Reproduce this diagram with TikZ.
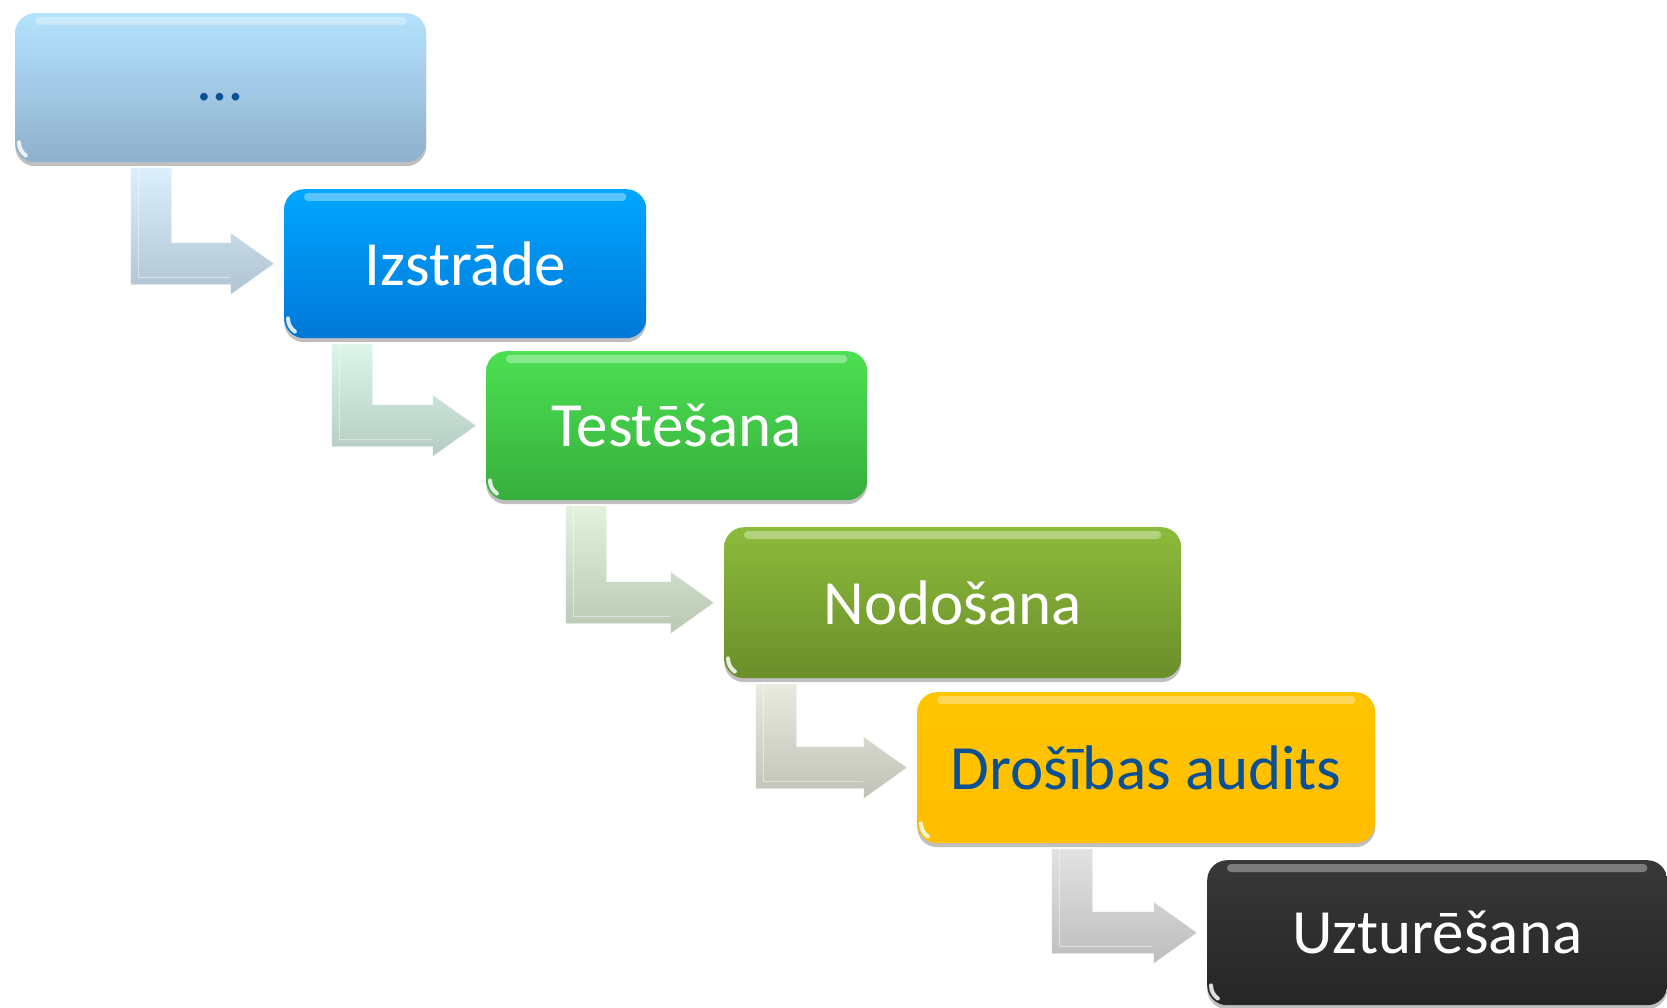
\documentclass[tikz,border=0pt]{standalone}
\usepackage{fontspec}
\setmainfont{Carlito}
\usetikzlibrary{calc,shadows}
\definecolor{dblue}{RGB}{10,80,148}
\tikzset{
  stage/.style={rectangle, rounded corners=20pt, inner sep=0pt, anchor=north west,
    font=\fontsize{63}{70}\selectfont, text=white,
    drop shadow={shadow xshift=0pt, shadow yshift=-4pt, opacity=0.25, fill=black}},
  gloss/.style={white, opacity=0.35, rounded corners=4pt},
  glint/.style={white, opacity=0.85, line width=4pt, line cap=round},
}
\newcommand\bentarrow[5]{%
  \shade[top color=#4, bottom color=#5, draw=white, draw opacity=0.85, line width=1.5pt, line join=miter]
    let \p1=(#1.south), \p2=(#2.west) in
    (#3pt,\y1-5pt) -- (#3pt+42pt,\y1-5pt) -- (#3pt+42pt,\y2+21.5pt) -- (\x2-54pt,\y2+21.5pt)
    -- (\x2-54pt,\y2+32pt) -- (\x2-9pt,\y2) -- (\x2-54pt,\y2-32pt) -- (\x2-54pt,\y2-21.5pt)
    -- (#3pt,\y2-21.5pt) -- cycle;
  \draw[white, opacity=0.45, line width=1pt]
    let \p1=(#1.south), \p2=(#2.west) in
    (#3pt+8pt,\y1-5pt) -- (#3pt+8pt,\y2-13.5pt) -- (\x2-54pt,\y2-13.5pt);
}
\newcommand\boxgloss[1]{%
  \fill[gloss] ($(#1.north west)+(20,4)$) rectangle ($(#1.north east)+(-20,12)$);
  \draw[glint] ($(#1.south west)+(4,-20)$) arc[start angle=180, end angle=125, radius=16];
}
\begin{document}
\begin{tikzpicture}[x=1pt,y=-1pt]
\useasboundingbox[fill=white] (0,0) rectangle (1667,1008);

\node[stage, top color={rgb,255:red,181;green,226;blue,254}, bottom color={rgb,255:red,142;green,176;blue,204},
  minimum width=411pt, minimum height=149pt, text=dblue, text height=26pt, text depth=0pt] (b1) at (15,13) {…};
\node[stage, top color={rgb,255:red,0;green,166;blue,255}, bottom color={rgb,255:red,0;green,120;blue,216},
  minimum width=362pt, minimum height=149pt] (b2) at (284,189) {Izstrāde};
\node[stage, top color={rgb,255:red,76;green,224;blue,82}, bottom color={rgb,255:red,55;green,174;blue,61},
  minimum width=381pt, minimum height=149pt] (b3) at (486,351) {Testēšana};
\node[stage, top color={rgb,255:red,140;green,187;blue,59}, bottom color={rgb,255:red,107;green,142;blue,43},
  minimum width=457pt, minimum height=151pt] (b4) at (724,527) {Nodošana};
\node[stage, top color={rgb,255:red,255;green,196;blue,0}, bottom color={rgb,255:red,255;green,190;blue,0},
  minimum width=458pt, minimum height=151pt, text=dblue] (b5) at (917,692) {Drošības audits};
\node[stage, top color={rgb,255:red,56;green,56;blue,56}, bottom color={rgb,255:red,38;green,38;blue,38},
  minimum width=460pt, minimum height=145pt] (b6) at (1207,860) {Uzturēšana};

\foreach \b in {b1,b2,b3,b4,b5,b6} {\boxgloss{\b}}

\bentarrow{b1}{b2}{130}{{rgb,255:red,220;green,239;blue,252}}{{rgb,255:red,175;green,195;blue,210}}
\bentarrow{b2}{b3}{331}{{rgb,255:red,221;green,245;blue,234}}{{rgb,255:red,179;green,203;blue,192}}
\bentarrow{b3}{b4}{565}{{rgb,255:red,226;green,242;blue,221}}{{rgb,255:red,185;green,199;blue,179}}
\bentarrow{b4}{b5}{755}{{rgb,255:red,234;green,234;blue,224}}{{rgb,255:red,191;green,194;blue,182}}
\bentarrow{b5}{b6}{1051}{{rgb,255:red,226;green,226;blue,226}}{{rgb,255:red,189;green,189;blue,189}}
\end{tikzpicture}
\end{document}
